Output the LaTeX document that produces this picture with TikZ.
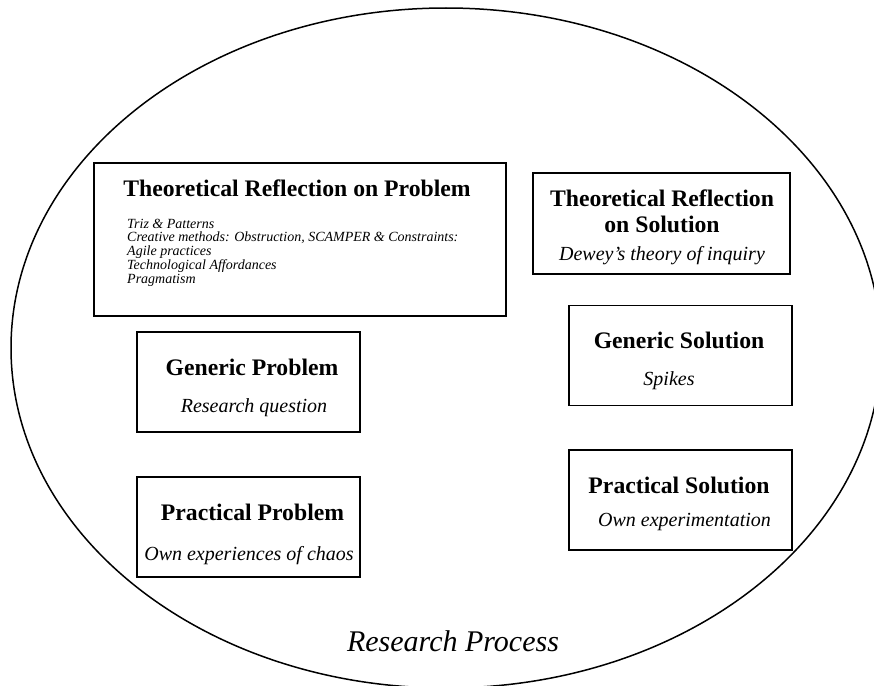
\documentclass[tikz,border=0pt]{standalone}
\usepackage{fontspec}
\setmainfont{Liberation Serif}
\usetikzlibrary{positioning}
\tikzset{
  stagebox/.style={draw,line width=1.5pt,inner sep=0pt,minimum width=223pt,minimum height=100pt},
  stagehead/.style={anchor=base,inner sep=0pt,font=\fontsize{23.7}{28}\selectfont\bfseries},
  stagesub/.style={anchor=base,inner sep=0pt,font=\fontsize{20}{24}\selectfont\itshape}
}
\begin{document}
\begin{tikzpicture}[x=1pt,y=-1pt]
\useasboundingbox (0,0) rectangle (874,685);
\draw[line width=1.5pt] (446,348) ellipse [x radius=435,y radius=340];
\node[stagebox,minimum width=412pt,minimum height=153pt] (trp) at (300,239.5) {};
\node[stagebox,minimum width=257pt,minimum height=101pt] (trs) at (661.5,223.5) {};
\node[stagebox] (gp) at (248.5,382) {};\node[stagebox] (pp) at (248.5,527) {};
\node[stagebox] (gs) at (680.5,355.5) {};\node[stagebox] (ps) at (680.5,500) {};
\node[stagehead] (trphead) at (297,196) {Theoretical Reflection on Problem};
\node[anchor=north west,inner sep=0pt,align=left,font=\fontsize{14}{13.8}\selectfont\itshape] (trpitems) at (127,218.5) {Triz \& Patterns\\Creative methods: Obstruction, SCAMPER \& Constraints:\\Agile practices\\Technological Affordances\\Pragmatism};
\node[stagehead] (trshead) at (662,206.7) {Theoretical Reflection};
\node[stagehead] (trshead2) at (662,232.7) {on Solution};
\node[stagesub] (trssub) at (662,260) {Dewey's theory of inquiry};
\node[stagehead] (gphead) at (252,375) {Generic Problem};
\node[stagesub] (gpsub) at (254,412) {Research question};
\node[stagehead] (pphead) at (252.5,520) {Practical Problem};
\node[stagesub] (ppsub) at (249,560) {Own experiences of chaos};
\node[stagehead] (gshead) at (679,348) {Generic Solution};
\node[stagesub] (gssub) at (669,385) {Spikes};
\node[stagehead] (pshead) at (679,493) {Practical Solution};
\node[stagesub] (pssub) at (684.5,526) {Own experimentation};
\node[anchor=base,inner sep=0pt,font=\fontsize{30}{34}\selectfont\itshape] (process) at (453,651) {Research Process};
\end{tikzpicture}
\end{document}
